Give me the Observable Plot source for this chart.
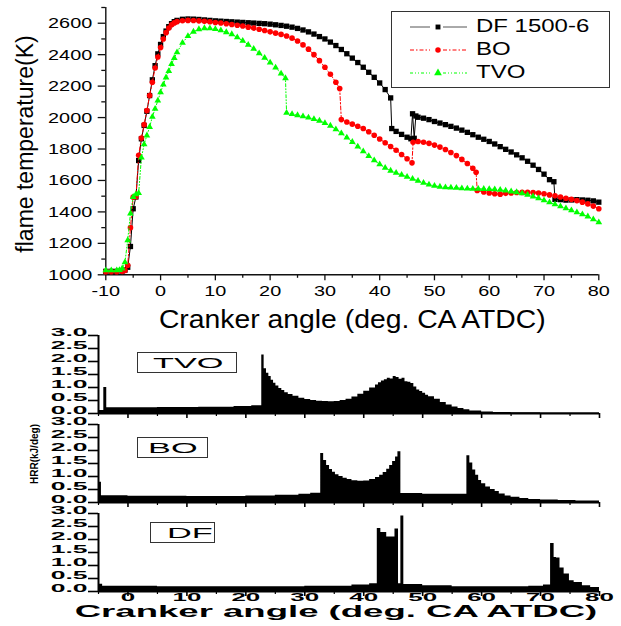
<!DOCTYPE html>
<html><head><meta charset="utf-8">
<script src="https://cdn.jsdelivr.net/npm/d3@7"></script>
<script src="https://cdn.jsdelivr.net/npm/@observablehq/plot@0.6"></script>
<style>
body{margin:0;background:#fff;font-family:"Liberation Sans",Arial,sans-serif;}
#wrap{position:relative;width:621px;height:626px;overflow:hidden;background:#fff;}
.layer{position:absolute;left:0;}
.box{position:absolute;border:1.3px solid #333;box-sizing:border-box;}
.st{position:absolute;white-space:nowrap;transform-origin:0 50%;line-height:1;color:#000;}
</style></head><body><div id="wrap"></div>
<script>
// ---------- data ----------
const seriesNames = ["DF 1500-6", "BO", "TVO"];
const seriesColors = ["#000000", "#ff0000", "#00ff00"];
const xTitle = "Cranker angle (deg. CA ATDC)";
const yTitle = "flame temperature(K)";
const hrrTitle = "HRR(kJ/deg)";

const dfPts = [[-10,1022],[-9,1022],[-8,1022],[-7,1024],[-6.5,1030],[-6,1048],[-5.5,1180],[-5,1420],[-4.5,1495],[-4,1727],[-3.5,1865],[-3,1950],[-2.5,2040],[-2,2140],[-1.5,2240],[-1,2330],[-0.5,2405],[0,2465],[0.5,2515],[1,2550],[1.5,2578],[2,2597],[2.5,2610],[3,2618],
[4,2625],[5,2627],[6,2626],[7,2624],[8,2621],[9,2618],[10,2615],[11,2613],[12,2611],[13,2609],[14,2607],[15,2605],[16,2603],[17,2601],[18,2599],[19,2597],[20,2594],[21,2590],[22,2586],[23,2581],[24,2575],[25,2567],[26,2557],[27,2545],[28,2531],[29,2515],[30,2500],[31,2480],[32,2458],[33,2433],[34,2406],[35,2378],[36,2350],[37,2320],[38,2288],[39,2256],[40,2220],[41,2178],[42,2125],
[42.2,1930],[43,1912],[44,1893],[45,1875],[45.7,1865],[46,2024],[46.3,1868],[46.6,2010],
[47,2002],[48,1996],[49,1987],[50,1975],[51,1965],[52,1955],[53,1944],[54,1933],[55,1920],[56,1906],[57,1891],[58,1875],[59,1862],[60,1848],[61,1832],[62,1815],[63,1798],[64,1781],[65,1763],[66,1744],[67,1722],[68,1697],[69,1670],[70,1640],[71,1605],[71.8,1592],[72,1480],[73,1478],[74,1475],[75,1476],[76,1478],[77,1476],[78,1474],[79,1470],[80,1462]];

const boPts = [[-10,1020],[-9,1020],[-8,1020],[-7,1022],[-6.5,1028],[-6,1060],[-5.5,1300],[-5,1494],[-4.5,1496],[-4,1760],[-3.5,1870],[-3,1955],[-2.5,2045],[-2,2140],[-1.5,2225],[-1,2315],[-0.5,2385],[0,2445],[0.5,2500],[1,2540],[1.5,2570],[2,2590],[2.5,2602],[3,2610],
[4,2616],[5,2618],[6,2617],[7,2615],[8,2612],[9,2609],[10,2605],[11,2601],[12,2597],[13,2592],[14,2587],[15,2582],[16,2575],[17,2569],[18,2562],[19,2554],[20,2545],[21,2537],[22,2529],[23,2519],[24,2505],[25,2487],[26,2462],[27,2435],[28,2400],[29,2362],[30,2320],[31,2275],[32,2225],[32.7,2185],
[33,1987],[34,1972],[35,1958],[36,1945],[37,1930],[38,1910],[39,1888],[40,1864],[41,1840],[42,1816],[43,1792],[44,1765],[45,1738],[45.9,1712],
[46.1,1843],[47,1848],[48,1843],[49,1836],[50,1825],[51,1812],[52,1797],[53,1778],[54,1758],[55,1734],[56,1708],[57,1678],[57.6,1652],
[57.8,1536],[59,1527],[60,1520],[61,1515],[62,1513],[63,1518],[64,1520],[65,1523],[66,1524],[67,1524],[68,1523],[69,1520],[70,1515],[71,1508],[72,1502],[73,1495],[74,1487],[75,1480],[76,1472],[77,1462],[78,1451],[79,1437],[80,1420]];

const tvoPts = [[-10,1028],[-9,1028],[-8,1028],[-7.5,1030],[-7,1040],[-6.5,1080],[-6,1220],[-5.5,1390],[-5,1495],[-4.5,1512],[-4,1520],[-3.5,1745],[-3,1830],[-2.5,1886],[-2,1940],[-1.5,2005],[-1,2055],[-0.5,2108],[0,2160],[0.5,2210],[1,2255],[1.5,2295],[2,2340],[2.5,2378],[3,2415],
[4,2475],[5,2518],[6,2546],[7,2562],[8,2568],[9,2567],[10,2563],[11,2555],[12,2543],[13,2530],[14,2510],[15,2488],[16,2463],[17,2437],[18,2408],[19,2380],[20,2350],[21,2318],[22,2280],[22.8,2250],
[23,2030],[24,2022],[25,2015],[26,2008],[27,2000],[28,1990],[29,1980],[30,1965],[31,1948],[32,1925],[33,1900],[34,1873],[35,1845],[36,1815],[37,1785],[38,1755],[39,1728],[40,1703],[41,1680],[42,1662],[43,1648],[44,1636],[45,1623],[46,1610],[47,1598],[48,1585],[49,1574],[50,1566],[51,1560],[52,1556],[53,1555],[54,1553],[55,1550],[56,1548],[57,1547],[58,1547],[59,1546],[60,1545],[61,1543],[62,1540],[63,1535],[64,1530],[65,1525],[66,1518],[67,1508],[68,1498],[69,1487],[70,1474],[71,1461],[72,1448],[73,1435],[74,1423],[75,1410],[76,1397],[77,1384],[78,1371],[79,1353],[80,1334]];

const topXTicks = [-10,0,10,20,30,40,50,60,70,80];
const topXMinor = [-5,5,15,25,35,45,55,65,75];
const topYTicks = [1000,1200,1400,1600,1800,2000,2200,2400,2600];
const topYMinor = [1100,1300,1500,1700,1900,2100,2300,2500,2700];

// heat release panels (step bars)
const panelNames = ["TVO", "BO", "DF"];
const tvoHRR = [[-5,0.12],[-4.1,1.0],[-3.6,0.22],[5,0.23],[12,0.24],[18,0.27],[21,0.3],[22.7,2.25],[23.1,1.72],[23.5,1.55],[23.9,1.42],[24.3,1.28],[24.7,1.16],[25.1,1.06],[25.6,0.96],[26.1,0.88],[26.6,0.8],[27.2,0.73],[28,0.66],[29,0.59],[30,0.54],[31,0.5],[32,0.47],[33,0.46],[34,0.45],[35,0.46],[36,0.5],[37,0.55],[38,0.63],[39,0.74],[40,0.86],[41,0.98],[42,1.1],[42.5,1.18],[43,1.25],[43.5,1.3],[44,1.36],[44.5,1.33],[45,1.42],[45.5,1.38],[46,1.32],[46.5,1.36],[47,1.22],[47.5,1.2],[48,1.15],[48.5,1.02],[49,0.9],[49.5,0.85],[50,0.78],[50.5,0.7],[51,0.64],[52,0.55],[53,0.42],[54,0.33],[55,0.25],[56,0.19],[57,0.14],[58,0.1],[60,0.06],[62,0.04],[65,0.03],[70,0.02],[75,0.02],[80,0.02]];
const boHRR = [[-5,0.78],[-4.5,0.26],[0,0.24],[10,0.23],[20,0.25],[25,0.28],[29,0.32],[31,0.36],[32.7,1.88],[33.2,1.62],[33.7,1.42],[34.2,1.27],[34.7,1.16],[35.2,1.07],[35.8,1.0],[36.5,0.93],[37.2,0.88],[38,0.84],[39,0.82],[40,0.83],[41,0.88],[42,0.96],[42.7,1.05],[43.3,1.15],[43.9,1.28],[44.4,1.42],[44.9,1.58],[45.4,1.75],[45.8,1.95],[46.3,0.35],[50,0.32],[54,0.32],[57.5,1.8],[58,1.52],[58.5,1.25],[59,1.05],[59.5,0.85],[60,0.72],[60.7,0.6],[61.5,0.5],[62.3,0.42],[63,0.33],[64,0.25],[65,0.2],[66.5,0.15],[68,0.12],[70,0.1],[73,0.08],[76,0.06],[80,0.04]];
const dfHRR = [[-5,0.28],[-4.3,0.2],[5,0.18],[20,0.18],[30,0.2],[38,0.25],[41,0.3],[42.3,2.42],[42.9,2.27],[43.9,2.1],[45.3,2.4],[45.9,0.3],[46.3,2.9],[46.8,0.27],[50,0.22],[55,0.18],[62,0.18],[68,0.2],[70.5,0.25],[71.7,1.85],[72.3,1.31],[72.7,1.29],[73.3,0.9],[74.0,0.67],[74.9,0.41],[75.7,0.35],[77.1,0.22],[78.5,0.15],[80,0.15]];
const panelData = [tvoHRR, boHRR, dfHRR];

const botXTicks = [0,10,20,30,40,50,60,70,80];
const botXMinor = [-5,5,15,25,35,45,55,65,75];
const botYTicks = [0,0.5,1,1.5,2,2.5,3];

// ---------- helpers ----------
const FONT = "'Liberation Sans', Arial, sans-serif";
const wrapEl = document.getElementById("wrap");
// widen glyphs horizontally about each text's anchor point (y / dy attributes are left untouched)
function stretch(svg, tag, sx) {
  svg.querySelectorAll(`g[aria-description="${tag}"] text`).forEach(t => {
    let tr = t.getAttribute("transform") || "";
    const x = t.getAttribute("x");
    if (x !== null && parseFloat(x)) {
      tr += ` translate(${parseFloat(x)},0)`;
      t.removeAttribute("x");
    }
    t.setAttribute("transform", `${tr} scale(${sx},1)`);
  });
}
function place(node, topPx) {
  node.classList.add("layer");
  node.style.top = topPx + "px";
  wrapEl.appendChild(node);
}
function htmlText(txt, left, centerY, size, sx, weight) {
  const s = document.createElement("span");
  s.className = "st";
  s.textContent = txt;
  s.style.left = left + "px";
  s.style.top = centerY + "px";
  s.style.fontSize = size + "px";
  s.style.fontWeight = weight || "normal";
  s.style.transform = `translateY(-50%) scaleX(${sx})`;
  wrapEl.appendChild(s);
  return s;
}
function rotText(txt, cx, cy, size, weight) {
  const s = document.createElement("span");
  s.className = "st";
  s.textContent = txt;
  Object.assign(s.style, {left: cx + "px", top: cy + "px", fontSize: size + "px", fontWeight: weight || "normal",
    transform: "translate(-50%,-50%) rotate(-90deg)", transformOrigin: "50% 50%"});
  wrapEl.appendChild(s);
  return s;
}
function box(left, topPx, w, h) {
  const d = document.createElement("div");
  d.className = "box";
  Object.assign(d.style, {left: left + "px", top: topPx + "px", width: w + "px", height: h + "px"});
  wrapEl.appendChild(d);
  return d;
}

// ---------- top chart ----------
const rows = (pts) => pts.map(([x, y]) => ({x, y}));
const dfRows = rows(dfPts), boRows = rows(boPts), tvoRows = rows(tvoPts);
const axisStyle = {stroke: "#111", strokeWidth: 1.3, fill: "none"};

const topChart = Plot.plot({
  width: 621, height: 335,
  marginLeft: 105.3, marginRight: 22.7, marginTop: 7, marginBottom: 60.7,
  style: {background: "transparent", overflow: "visible", fontFamily: FONT, color: "#000"},
  x: {domain: [-10, 80], label: null},
  y: {domain: [1000, 2700], label: null},
  marks: [
    Plot.axisY(topYTicks, {...axisStyle, tickSize: 7.6}),
    Plot.axisY(topYMinor, {...axisStyle, tickSize: 4}),
    Plot.axisX(topXTicks, {...axisStyle, tickSize: 6}),
    Plot.axisX(topXMinor, {...axisStyle, tickSize: 3.5}),
    Plot.ruleX([-10], {stroke: "#111", strokeWidth: 1.4}),
    Plot.ruleY([1000], {stroke: "#111", strokeWidth: 1.4}),
    Plot.text(topYTicks, {y: d => d, text: d => String(d), frameAnchor: "left", dx: -13.6, textAnchor: "end", fontSize: 15.5, ariaDescription: "ytl"}),
    Plot.text(topXTicks, {x: d => d, text: d => String(d), frameAnchor: "bottom", dy: 10, lineAnchor: "top", fontSize: 15.5, ariaDescription: "xtl"}),
    Plot.text([xTitle], {text: d => d, frameAnchor: "bottom", dy: 53, fontSize: 26, ariaDescription: "xtitle"}),
    Plot.line(dfRows, {x: "x", y: "y", stroke: seriesColors[0], strokeWidth: 1}),
    Plot.dot(dfRows, {x: "x", y: "y", symbol: "square", r: 3, fill: seriesColors[0], stroke: "none"}),
    Plot.line(boRows, {x: "x", y: "y", stroke: seriesColors[1], strokeWidth: 1, strokeDasharray: "4,2,1.5,2"}),
    Plot.dot(boRows, {x: "x", y: "y", symbol: "circle", r: 2.8, fill: seriesColors[1], stroke: "none"}),
    Plot.line(tvoRows, {x: "x", y: "y", stroke: seriesColors[2], strokeWidth: 1, strokeDasharray: "3,2,1,2,1,2"}),
    Plot.dot(tvoRows, {x: "x", y: "y", symbol: "triangle", r: 2.5, fill: seriesColors[2], stroke: "none"})
  ]
});
stretch(topChart, "ytl", 1.28);
stretch(topChart, "xtl", 1.28);
stretch(topChart, "xtitle", 1.09);
place(topChart, 0);
rotText(yTitle, 25, 143.5, 23);

// legend
box(391, 11, 219, 77);
const legendRowsY = [27, 50, 73];
const legendSymbols = [d3.symbolSquare, d3.symbolCircle, d3.symbolTriangle];
const legendDash = [null, "4,2,1.5,2", "3,2,1,2,1,2"];
const lsvg = d3.create("svg").attr("width", 70).attr("height", 77)
  .style("position", "absolute").style("left", "405px").style("top", "11px").style("overflow", "visible");
seriesNames.forEach((n, i) => {
  const y = legendRowsY[i] - 11;
  const col = i === 0 ? "#555" : seriesColors[i];
  const g = lsvg.append("g");
  [[5, 25], [38, 62]].forEach(([a, b]) => {
    g.append("line").attr("x1", a).attr("x2", b).attr("y1", y).attr("y2", y)
      .attr("stroke", col).attr("stroke-width", 1).attr("stroke-dasharray", legendDash[i]);
  });
  g.append("path").attr("transform", `translate(33,${y})`)
    .attr("d", d3.symbol(legendSymbols[i], i === 2 ? 26 : 24)()).attr("fill", seriesColors[i]);
  htmlText(n, 475.7, legendRowsY[i], 17.5, 1.37);
});
wrapEl.appendChild(lsvg.node());

// ---------- bottom panels ----------
const zeroY = [413, 502, 591];
panelNames.forEach((name, i) => {
  const last = i === panelNames.length - 1;
  const mt = 8, mb = last ? 35 : 8;
  const p = Plot.plot({
    width: 621, height: mt + 78 + mb,
    marginLeft: 98, marginRight: 22, marginTop: mt, marginBottom: mb,
    style: {background: "transparent", overflow: "visible", fontFamily: FONT, color: "#000"},
    x: {domain: [-5, 80], label: null},
    y: {domain: [0, 3], label: null},
    marks: [
      Plot.areaY(panelData[i], {x: d => d[0], y: d => d[1], curve: "step-after", fill: "#000"}),
      Plot.axisY(botYTicks, {stroke: "#000", strokeWidth: 1.6, fill: "none", tickSize: 10}),
      Plot.axisX(botXTicks, {stroke: "#000", strokeWidth: 1.6, fill: "none", tickSize: 5}),
      Plot.axisX(botXMinor, {stroke: "#000", strokeWidth: 1.2, fill: "none", tickSize: 3}),
      Plot.ruleX([-5], {stroke: "#000", strokeWidth: 2}),
      Plot.ruleY([0], {stroke: "#000", strokeWidth: 2}),
      Plot.text(botYTicks, {y: d => d, text: d => d.toFixed(1), frameAnchor: "left", dx: -11, dy: 0.5, textAnchor: "end", lineAnchor: "bottom", fontSize: 10, fontWeight: "bold", ariaDescription: "bytl"}),
      last ? Plot.text(botXTicks, {x: d => d, text: d => String(d), frameAnchor: "bottom", dy: 2, lineAnchor: "top", fontSize: 10, fontWeight: "bold", ariaDescription: "bxtl"}) : null,
      last ? Plot.text([xTitle], {text: d => d, frameAnchor: "bottom", dx: -13, dy: 25.5, fontSize: 17, fontWeight: "bold", ariaDescription: "bxt"}) : null
    ]
  });
  stretch(p, "bytl", 2.65);
  stretch(p, "bxtl", 2.6);
  stretch(p, "bxt", 2.15);
  place(p, zeroY[i] - 78 - mt);
});

// panel name boxes
const nameBoxes = [[137, 352, 100, 21, 153], [137, 437, 71, 21, 148], [150, 522, 65, 21, 167]];
panelNames.forEach((n, i) => {
  const [l, t, w, h, tl] = nameBoxes[i];
  box(l, t, w, h);
  htmlText(n, tl, t + h / 2 + 0.5, 14, 2.45);
});

// bottom y title (rotated)
rotText(hrrTitle, 35, 454, 10, "bold");
</script></body></html>
